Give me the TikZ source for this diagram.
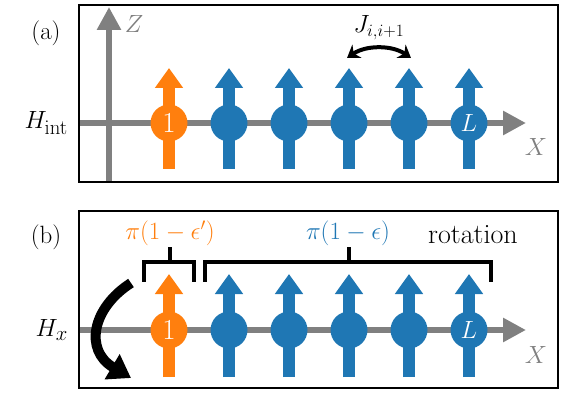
\documentclass[tikz,border=0pt]{standalone}
\usetikzlibrary{arrows.meta}
\definecolor{tabblue}{HTML}{1F77B4}
\definecolor{taborange}{HTML}{FF7F0E}
\definecolor{axgray}{HTML}{808080}
\begin{document}
\begin{tikzpicture}[x=1pt,y=-1pt,font=\fontsize{25}{30}\selectfont,
  axisline/.style={draw=axgray,line width=6pt,-{Triangle[length=23pt,width=23pt]}},
  spinarrow/.style={line width=12pt,-{Triangle[length=20pt,width=27pt]}},
  spinball/.style={circle,minimum size=37pt,inner sep=0pt,text=white,font=\fontsize{29}{34}\selectfont},
  framebox/.style={draw=black,line width=2.5pt},
  bracketline/.style={draw=black,line width=4pt},
  lbl/.style={inner sep=0pt},
  big/.style={font=\fontsize{29}{34}\selectfont},
  ham/.style={font=\fontsize{31}{36}\selectfont}]
\useasboundingbox (0,0) rectangle (563,393);
% ---------- panel (a) ----------
\coordinate (ax0) at (79,123);
\coordinate (ax1) at (526,123);
\coordinate (az0) at (109,182);
\coordinate (az1) at (109,7);
\draw[axisline] (ax0) -- (ax1);
\draw[axisline] (az0) -- (az1);
\node[lbl,big,text=axgray] (zl) at (134,24) {$Z$};
\node[lbl,big,text=axgray] (xl) at (536,147) {$X$};
\foreach \i/\x/\c in {1/169/taborange,2/229/tabblue,3/289/tabblue,4/349/tabblue,5/409/tabblue,6/469/tabblue}{
  \coordinate (sa\i b) at (\x,169);
  \coordinate (sa\i t) at (\x,68);
  \draw[spinarrow,draw=\c,fill=\c] (sa\i b) -- (sa\i t);
}
\node[spinball,fill=taborange] (a1) at (169,123) {1};
\foreach \i/\x in {2/229,3/289,4/349,5/409}{
  \node[spinball,fill=tabblue] (a\i) at (\x,123) {};
}
\node[spinball,fill=tabblue] (a6) at (469,123) {$L$};
\coordinate (j0) at (347,58);
\coordinate (j1) at (411,58);
\draw[line width=4pt,{Stealth[length=12pt,width=16pt]}-{Stealth[length=12pt,width=16pt]}]
  (j0) .. controls (366,45) and (392,45) .. (j1);
\node[lbl] (jl) at (379,28) {$J_{i,i+1}$};
\draw[framebox] (79,5) rectangle (558,182);
\node[lbl] (la) at (46,33) {(a)};
\node[lbl,ham,anchor=east] (hint) at (68,123) {$H_{\mathrm{int}}$};
% ---------- panel (b) ----------
\coordinate (bx0) at (79,330);
\coordinate (bx1) at (526,330);
\draw[axisline] (bx0) -- (bx1);
\node[lbl,big,text=axgray] (xlb) at (536,355) {$X$};
\foreach \i/\x/\c in {1/169/taborange,2/229/tabblue,3/289/tabblue,4/349/tabblue,5/409/tabblue,6/469/tabblue}{
  \coordinate (sb\i b) at (\x,377);
  \coordinate (sb\i t) at (\x,274);
  \draw[spinarrow,draw=\c,fill=\c] (sb\i b) -- (sb\i t);
}
\node[spinball,fill=taborange] (b1) at (169,330) {1};
\foreach \i/\x in {2/229,3/289,4/349,5/409}{
  \node[spinball,fill=tabblue] (b\i) at (\x,330) {};
}
\node[spinball,fill=tabblue] (b6) at (469,330) {$L$};
% brackets
\coordinate (k1a) at (144,282);
\coordinate (k1b) at (144,262);
\coordinate (k1c) at (194,262);
\coordinate (k1d) at (194,282);
\coordinate (k1m) at (170,262);
\coordinate (k1n) at (170,247);
\draw[bracketline] (k1a) -- (k1b) -- (k1c) -- (k1d);
\draw[bracketline] (k1m) -- (k1n);
\coordinate (k2a) at (205,282);
\coordinate (k2b) at (205,262);
\coordinate (k2c) at (491,262);
\coordinate (k2d) at (491,282);
\coordinate (k2m) at (349,262);
\coordinate (k2n) at (349,247);
\draw[bracketline] (k2a) -- (k2b) -- (k2c) -- (k2d);
\draw[bracketline] (k2m) -- (k2n);
\node[lbl,font=\fontsize{27}{32}\selectfont,text=taborange] (eps1) at (170,233) {$\pi(1-\epsilon')$};
\node[lbl,font=\fontsize{27}{32}\selectfont,text=tabblue] (eps) at (348,233) {$\pi(1-\epsilon)$};
\node[lbl,font=\fontsize{28}{33}\selectfont] (rot) at (473,235) {rotation};
% rotation arrow
\coordinate (r0) at (131,283);
\coordinate (r1) at (131,378);
\draw[line width=10pt,-{Triangle[length=22pt,width=28pt]}]
  (r0) .. controls (92,308) and (84,350) .. (r1);
\draw[framebox] (79,211) rectangle (558,388);
\node[lbl] (lb) at (46,237) {(b)};
\node[lbl,ham,anchor=east] (hx) at (68,330) {$H_x$};
\end{tikzpicture}
\end{document}
